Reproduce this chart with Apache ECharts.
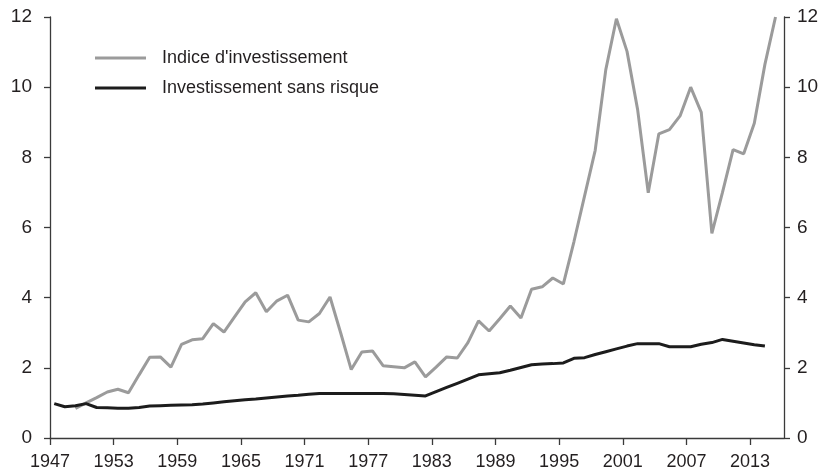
<!DOCTYPE html>
<html>
<head>
<meta charset="utf-8">
<script src="https://cdn.jsdelivr.net/npm/echarts@6/dist/echarts.min.js"></script>
<style>
html,body{margin:0;padding:0;background:#fff;}
#chart{width:826px;height:471px;}
</style>
</head>
<body>
<div id="chart"></div>
<script>
// ---- data ----
const riskFreeYears = [];
for (let y = 1947; y <= 2014; y++) riskFreeYears.push(y);
const riskFreeValues = [
  0.98, 0.89, 0.92, 0.98, 0.87, 0.86, 0.85, 0.85, 0.87, 0.91,
  0.92, 0.93, 0.94, 0.95, 0.97, 1.00, 1.03, 1.06, 1.09, 1.11,
  1.14, 1.17, 1.20, 1.22, 1.25, 1.27, 1.27, 1.27, 1.27, 1.27,
  1.27, 1.27, 1.26, 1.24, 1.22, 1.20, 1.32, 1.44, 1.56, 1.68,
  1.80, 1.83, 1.86, 1.93, 2.01, 2.09, 2.11, 2.12, 2.14, 2.27,
  2.29, 2.38, 2.46, 2.54, 2.62, 2.69, 2.69, 2.69, 2.60, 2.60,
  2.60, 2.67, 2.72, 2.81, 2.76, 2.71, 2.66, 2.62
];
const indexYears = [];
for (let y = 1949; y <= 2015; y++) indexYears.push(y);
const indexValues = [
  0.84, 1.00, 1.15, 1.31, 1.39, 1.29, 1.80, 2.30, 2.31, 2.02,
  2.67, 2.80, 2.83, 3.26, 3.02, 3.45, 3.88, 4.14, 3.60, 3.91,
  4.07, 3.36, 3.31, 3.55, 4.02, 3.00, 1.95, 2.45, 2.48, 2.06,
  2.03, 2.00, 2.17, 1.74, 2.02, 2.31, 2.28, 2.72, 3.34, 3.05,
  3.40, 3.76, 3.42, 4.24, 4.31, 4.56, 4.39, 5.60, 6.90, 8.20,
  10.50, 11.95, 11.02, 9.36, 6.99, 8.67, 8.79, 9.18, 10.00, 9.28,
  5.83, 7.00, 8.22, 8.10, 8.97, 10.65, 12.00
];
const tickYears = [1947, 1953, 1959, 1965, 1971, 1977, 1983, 1989, 1995, 2001, 2007, 2013];
const seriesNames = ["Indice d'investissement", "Investissement sans risque"];

// ---- chart ----
const MID_YEAR = 0.4; // annual values plotted within their year
const toPoints = (ys, vs) => ys.map((y, i) => [y + MID_YEAR, vs[i]]);
const FONT = 'Liberation Sans, Arial, sans-serif';
const TXT = '#231f20';
const AX = '#3a3a3a';

const yAxisCommon = {
  type: 'value', min: 0, max: 12, interval: 2,
  axisLine: { show: true, onZero: false, lineStyle: { color: AX, width: 1.3 } },
  axisTick: { show: true, length: 6, lineStyle: { color: AX, width: 1.3 } },
  splitLine: { show: false },
  axisLabel: { fontSize: 19, color: TXT, fontFamily: FONT }
};

const chart = echarts.init(document.getElementById('chart'), null, { renderer: 'canvas' });
chart.setOption({
  animation: false,
  backgroundColor: '#ffffff',
  grid: { left: 50, right: 42, top: 17, bottom: 33, containLabel: false },
  legend: {
    orient: 'vertical', left: 90, top: 44, itemGap: 12,
    itemWidth: 51, itemHeight: 3, icon: 'rect',
    textStyle: { fontSize: 18, color: TXT, fontFamily: FONT, padding: [0, 0, 0, 11] },
    data: seriesNames
  },
  xAxis: {
    type: 'value', min: 1947, max: 2016.2,
    axisLine: { show: true, onZero: false, lineStyle: { color: AX, width: 1.3 } },
    axisTick: { show: true, customValues: tickYears, length: 7, lineStyle: { color: AX, width: 1.3 } },
    axisLabel: { customValues: tickYears, fontSize: 18, color: TXT, fontFamily: FONT, margin: 15,
      formatter: v => String(v) },
    splitLine: { show: false }
  },
  yAxis: [
    Object.assign({}, yAxisCommon, { position: 'left', axisLabel: Object.assign({}, yAxisCommon.axisLabel, { margin: 18 }) }),
    Object.assign({}, yAxisCommon, { position: 'right', axisLabel: Object.assign({}, yAxisCommon.axisLabel, { margin: 13 }) })
  ],
  series: [
    {
      name: seriesNames[0], type: 'line', yAxisIndex: 0,
      data: toPoints(indexYears, indexValues),
      showSymbol: false, symbol: 'none',
      lineStyle: { color: '#9b9b9b', width: 3 }, itemStyle: { color: '#9b9b9b' }, z: 2
    },
    {
      name: seriesNames[1], type: 'line', yAxisIndex: 0,
      data: toPoints(riskFreeYears, riskFreeValues),
      showSymbol: false, symbol: 'none',
      lineStyle: { color: '#1c1c1c', width: 3 }, itemStyle: { color: '#1c1c1c' }, z: 3
    }
  ]
});
</script>
</body>
</html>
